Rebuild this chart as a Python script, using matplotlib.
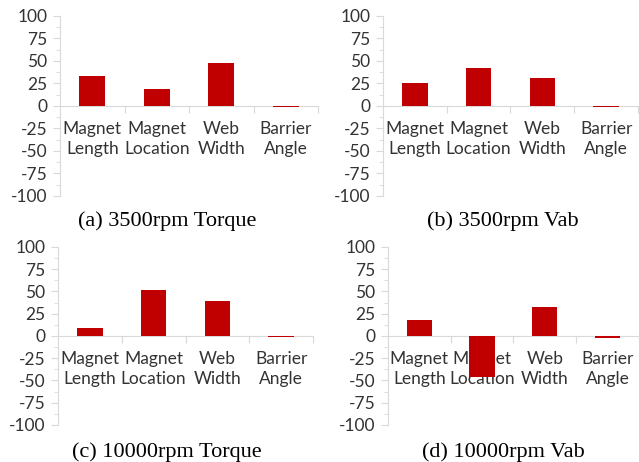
import matplotlib
matplotlib.use("Agg")
import matplotlib.pyplot as plt
from matplotlib.ticker import MultipleLocator, FixedLocator, NullFormatter

plt.rcParams["axes.unicode_minus"] = False

# Data
categories = ["Magnet\nLength", "Magnet\nLocation", "Web\nWidth", "Barrier\nAngle"]
torque_3500 = [33, 18.5, 48, -1]
vab_3500 = [26, 42, 31.5, -1]
torque_10000 = [9, 52, 39, -1]
vab_10000 = [18, -46.5, 33, -2]
titles = ["(a) 3500rpm Torque", "(b) 3500rpm Vab",
          "(c) 10000rpm Torque", "(d) 10000rpm Vab"]

bar_color = "#C00000"
axis_color = "#D9D9D9"
text_color = "#333333"

fig = plt.figure(figsize=(6.39, 4.62), dpi=100)

# axes rectangles in figure fractions (left, bottom, width, height)
rects = [
    (0.0939, 0.5758, 0.4038, 0.3896),
    (0.5994, 0.5758, 0.3990, 0.3896),
    (0.0908, 0.0801, 0.3990, 0.3853),
    (0.6070, 0.0801, 0.3930, 0.3853),
]
title_pos = [(167, 221), (503, 221), (167, 452), (503, 452)]
series = [torque_3500, vab_3500, torque_10000, vab_10000]

for rect, vals, title, (tx, ty) in zip(rects, series, titles, title_pos):
    ax = fig.add_axes(rect)
    x = list(range(len(categories)))
    ax.bar(x, vals, width=0.4, color=bar_color, zorder=3)
    ax.set_xlim(-0.5, 3.5)
    ax.set_ylim(-100, 100)

    for s in ["top", "right"]:
        ax.spines[s].set_visible(False)
    ax.spines["left"].set_color(axis_color)
    ax.spines["bottom"].set_color(axis_color)
    ax.spines["bottom"].set_position(("data", 0))

    # y axis ticks
    ax.yaxis.set_major_locator(MultipleLocator(25))
    ax.yaxis.set_minor_locator(MultipleLocator(12.5))
    ax.tick_params(axis="y", which="major", length=5, color=axis_color,
                   labelsize=12.5, labelcolor=text_color, pad=4)
    ax.tick_params(axis="y", which="minor", length=3, color=axis_color)
    for lab in ax.get_yticklabels():
        lab.set_family("Lato")

    # x axis: tick marks at category boundaries, labels at centres
    ax.xaxis.set_major_locator(FixedLocator([0.5, 1.5, 2.5, 3.5]))
    ax.xaxis.set_major_formatter(NullFormatter())
    ax.xaxis.set_minor_locator(FixedLocator(x))
    ax.set_xticklabels(categories, minor=True)
    ax.tick_params(axis="x", which="major", length=5, color=axis_color,
                   direction="out")
    ax.tick_params(axis="x", which="minor", length=0, pad=11,
                   labelsize=12.5, labelcolor=text_color)
    for lab in ax.get_xticklabels(minor=True):
        lab.set_family("Lato")
        lab.set_linespacing(1.3)

    fig.text(tx / 639, 1 - ty / 462, title, ha="center", va="center",
             fontsize=16, family="Liberation Serif", color="black")

fig.savefig("out.png", dpi=100)
